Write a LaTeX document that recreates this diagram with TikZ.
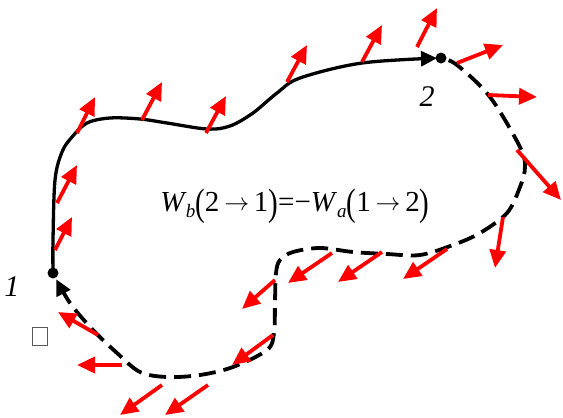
\documentclass[tikz,border=0pt]{standalone}
\usepackage{fontspec}
\usepackage{graphicx}
\setmainfont{Liberation Serif}
\usetikzlibrary{arrows.meta}
\newcommand\bigparen[1]{\raisebox{-0.13em}{\scalebox{1}[1.32]{#1}}}
\newcommand\rarr{\,\raisebox{0.02em}{$\rightarrow$}\,}
\begin{document}
\begin{tikzpicture}[x=1pt,y=-1pt,
  vec/.style={draw=red,line width=3.8pt,-{Triangle[length=18pt,width=16pt]}},
  pathsolid/.style={draw=black,line width=3.3pt,-{Triangle[length=16pt,width=15pt]},shorten >=4pt},
  pathdashed/.style={draw=black,line width=3.8pt,dash pattern=on 17pt off 8pt,dash phase=-8pt,-{Triangle[length=16pt,width=15pt]},shorten >=7pt},
  dot/.style={circle,fill=black,inner sep=0pt,minimum size=11pt},
  lbl/.style={font=\fontsize{30}{30}\selectfont\itshape,inner sep=0pt}]
\useasboundingbox (0,0) rectangle (563,418);
\coordinate (P1) at (53,273);
\coordinate (P2) at (441,58);
% solid path a : 1 -> 2
\draw[pathsolid] plot[smooth,tension=0.55] coordinates {(P1) (53,240) (55,180) (62,152) (72,137) (87,123) (110,118) (140,119) (167,123) (207,129) (230,126) (253,113) (277,93) (300,78) (362,63) (P2)};
% dashed path b : 2 -> 1
\draw[pathdashed] plot[smooth,tension=0.55] coordinates {(P2) (457,65) (490,97) (520,147) (525,167) (520,187) (507,213) (480,233) (453,245) (420,255) (387,254) (353,252) (320,248) (293,252) (280,260) (276,273) (275,300) (274,333) (267,350) (233,367) (200,375) (167,377) (140,372) (117,353) (93,330) (70,303) (P1)};
\node[dot] (n1) at (P1) {};
\node[dot] (n2) at (P2) {};
\node[lbl] (l1) at (12,287) {1};
\node[lbl] (l2) at (427,97) {2};
% red vectors
\draw[vec] (55,250) -- (72,217);
\draw[vec] (57,203) -- (77,165);
\draw[vec] (77,133) -- (95,97);
\draw[vec] (142,120) -- (162,82);
\draw[vec] (206,133) -- (226,96);
\draw[vec] (287,82) -- (307,45);
\draw[vec] (362,62) -- (382,25);
\draw[vec] (417,47) -- (437,8);
\draw[vec] (457,63) -- (503,45);
\draw[vec] (488,95) -- (537,97);
\draw[vec] (517,150) -- (561,200);
\draw[vec] (503,217) -- (495,268);
\draw[vec] (447,249) -- (403,279);
\draw[vec] (382,252) -- (338,282);
\draw[vec] (332,253) -- (288,283);
\draw[vec] (275,280) -- (242,309);
\draw[vec] (273,335) -- (232,365);
\draw[vec] (208,385) -- (165,415);
\draw[vec] (162,385) -- (120,415);
\draw[vec] (122,365) -- (77,365);
\draw[vec] (98,335) -- (58,312);
% missing glyph box
\node[draw=black!65,line width=1pt,minimum width=15pt,minimum height=18pt,inner sep=0pt] (box) at (39.5,336.5) {};
% formula
\node[font=\fontsize{29}{29}\selectfont,inner sep=0pt] (eq) at (295,206) {\textit{W}\kern-1pt\raisebox{-6.5pt}{\fontsize{19}{19}\selectfont\textit{b}}\bigparen{(}2\rarr 1\bigparen{)}=−\textit{W}\raisebox{-6.5pt}{\fontsize{19}{19}\selectfont\textit{a}}\bigparen{(}1\rarr 2\bigparen{)}};
\end{tikzpicture}
\end{document}
